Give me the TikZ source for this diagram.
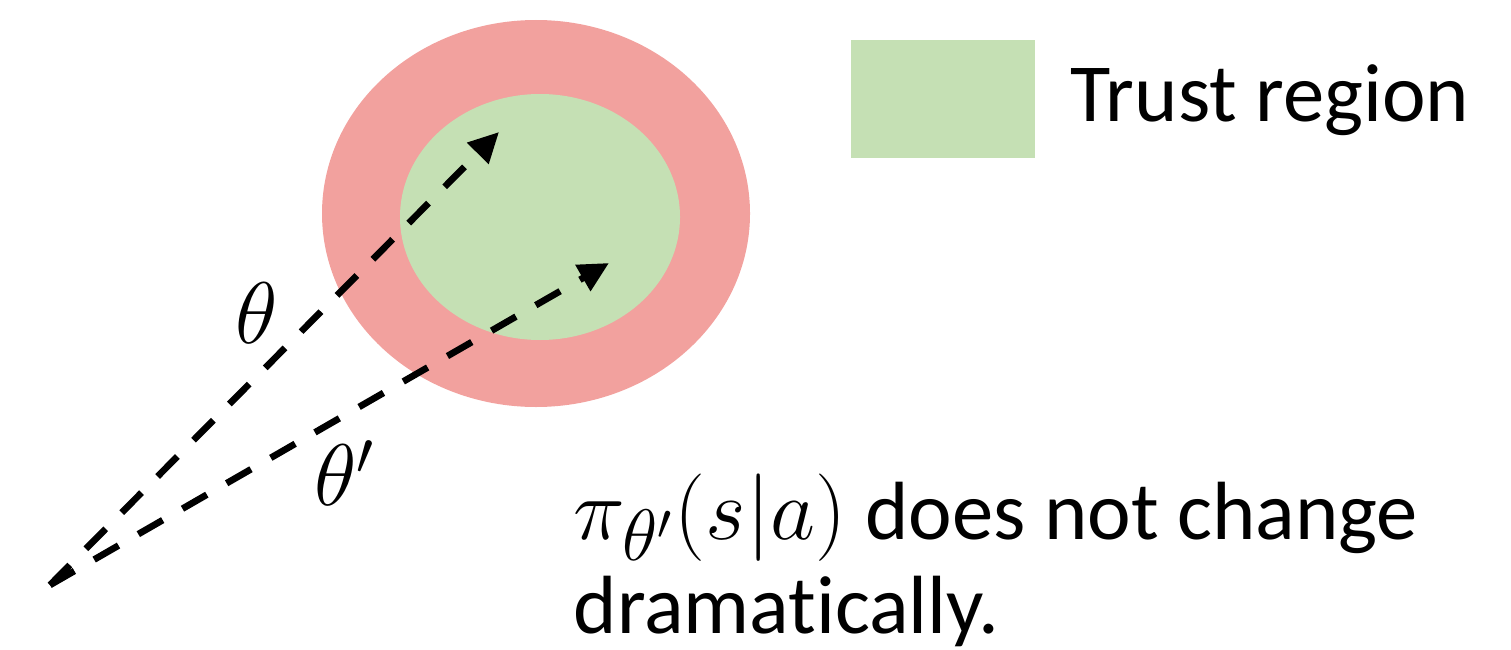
\documentclass[tikz,border=0pt]{standalone}
\usepackage{amsmath}
\usepackage{fontspec}
\setmainfont{Carlito}[Ligatures=NoCommon]
\usepackage{tikz}
\usetikzlibrary{arrows.meta}

\definecolor{outerred}{HTML}{F2A19E}
\definecolor{trustgreen}{HTML}{C5E0B4}

\begin{document}
\begin{tikzpicture}[
    vec/.style={line width=1.9pt,dash pattern=on 8pt off 6.5pt,
      -{Triangle[length=8.6pt,width=8.2pt]}},
    bigtext/.style={font=\fontsize{23.5}{26.5}\selectfont,inner sep=0pt}]
  \useasboundingbox (0,0) rectangle (15.11,6.49);
  % --- regions ---
  \fill[outerred] (5.36,4.355) ellipse (2.14 and 1.935);
  \fill[trustgreen] (5.40,4.32) ellipse (1.40 and 1.23);
  % --- legend ---
  \fill[trustgreen] (8.51,4.91) rectangle (10.35,6.09);
  \node[bigtext,anchor=base west] (trust) at (10.70,5.27) {Trust region};
  % --- parameter vectors ---
  \coordinate (origin) at (0.50,0.64);
  \coordinate (theta) at (4.99,5.17);
  \coordinate (thetap) at (6.09,3.86);
  \draw[vec] (origin) -- (theta);
  \draw[vec] (origin) -- (thetap);
  \node[bigtext,font=\fontsize{25}{26}\selectfont] (lbltheta) at (2.57,3.36) {$\theta$};
  \node[bigtext,font=\fontsize{25}{26}\selectfont] (lblthetap) at (3.45,1.76) {$\theta'$};
  % --- remark ---
  \node[bigtext,anchor=base west,align=left] (remark) at (5.73,0.16)
    {{\fontsize{29}{26.5}\selectfont$\pi_{\theta'}(s|a)$} does not change\\dramatically.};
\end{tikzpicture}
\end{document}
